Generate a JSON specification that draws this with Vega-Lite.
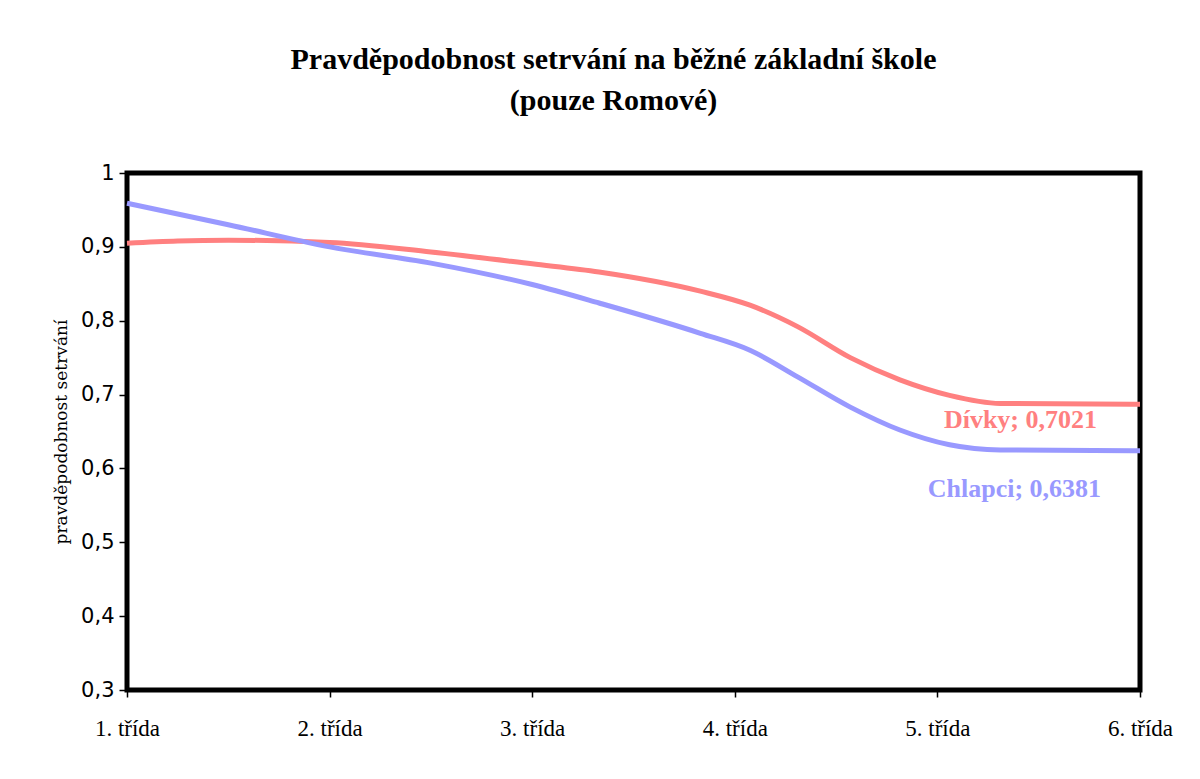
{
  "$schema": "https://vega.github.io/schema/vega-lite/v6.json",
  "width": 1013,
  "height": 517,
  "autosize": {"type": "none"},
  "padding": {"left": 127, "top": 173, "right": 60, "bottom": 89},
  "background": "white",
  "title": {
    "text": ["Pravděpodobnost setrvání na běžné základní škole", "(pouze Romové)"],
    "font": "Liberation Serif",
    "fontSize": 30,
    "fontWeight": "bold",
    "color": "black",
    "lineHeight": 41,
    "anchor": "middle",
    "dx": -20,
    "offset": 46
  },
  "config": {
    "view": {"stroke": "black", "strokeWidth": 5},
    "axis": {"grid": false, "domain": false, "tickColor": "black", "tickWidth": 1.5, "labelColor": "black", "titleColor": "black"}
  },
  "datasets": {
    "lines": [
      {"trida": 1.0, "p": 0.905, "skupina": "Dívky"},
      {"trida": 1.25, "p": 0.908, "skupina": "Dívky"},
      {"trida": 1.5, "p": 0.909, "skupina": "Dívky"},
      {"trida": 2.0, "p": 0.906, "skupina": "Dívky"},
      {"trida": 2.5, "p": 0.893, "skupina": "Dívky"},
      {"trida": 3.0, "p": 0.877, "skupina": "Dívky"},
      {"trida": 3.33, "p": 0.866, "skupina": "Dívky"},
      {"trida": 3.83, "p": 0.840, "skupina": "Dívky"},
      {"trida": 4.075, "p": 0.821, "skupina": "Dívky"},
      {"trida": 4.31, "p": 0.792, "skupina": "Dívky"},
      {"trida": 4.57, "p": 0.750, "skupina": "Dívky"},
      {"trida": 4.815, "p": 0.720, "skupina": "Dívky"},
      {"trida": 5.06, "p": 0.699, "skupina": "Dívky"},
      {"trida": 5.31, "p": 0.688, "skupina": "Dívky"},
      {"trida": 6.0, "p": 0.687, "skupina": "Dívky"},
      {"trida": 1.0, "p": 0.959, "skupina": "Chlapci"},
      {"trida": 1.5, "p": 0.930, "skupina": "Chlapci"},
      {"trida": 2.0, "p": 0.900, "skupina": "Chlapci"},
      {"trida": 2.5, "p": 0.878, "skupina": "Chlapci"},
      {"trida": 3.0, "p": 0.849, "skupina": "Chlapci"},
      {"trida": 3.33, "p": 0.824, "skupina": "Chlapci"},
      {"trida": 3.83, "p": 0.783, "skupina": "Chlapci"},
      {"trida": 4.075, "p": 0.760, "skupina": "Chlapci"},
      {"trida": 4.31, "p": 0.724, "skupina": "Chlapci"},
      {"trida": 4.57, "p": 0.683, "skupina": "Chlapci"},
      {"trida": 4.815, "p": 0.652, "skupina": "Chlapci"},
      {"trida": 5.06, "p": 0.632, "skupina": "Chlapci"},
      {"trida": 5.31, "p": 0.625, "skupina": "Chlapci"},
      {"trida": 6.0, "p": 0.624, "skupina": "Chlapci"}
    ],
    "labels": [
      {"trida": 5.41, "p": 0.6656, "skupina": "Dívky", "text": "Dívky; 0,7021"},
      {"trida": 5.38, "p": 0.572, "skupina": "Chlapci", "text": "Chlapci; 0,6381"}
    ]
  },
  "layer": [
    {
      "data": {"name": "lines"},
      "mark": {"type": "line", "strokeWidth": 5, "interpolate": "monotone"},
      "encoding": {
        "x": {
          "field": "trida", "type": "quantitative",
          "scale": {"domain": [1, 6], "nice": false, "zero": false},
          "axis": {
            "title": null, "values": [1, 2, 3, 4, 5, 6],
            "labelExpr": "datum.value + '. třída'",
            "labelFont": "Liberation Serif", "labelFontSize": 23,
            "tickSize": 7, "labelPadding": 20, "labelFlush": false
          }
        },
        "y": {
          "field": "p", "type": "quantitative",
          "scale": {"domain": [0.3, 1], "nice": false, "zero": false},
          "axis": {
            "title": "pravděpodobnost setrvání",
            "titleFont": "DejaVu Serif", "titleFontSize": 17, "titleFontWeight": "normal",
            "titlePadding": 10,
            "values": [0.3, 0.4, 0.5, 0.6, 0.7, 0.8, 0.9, 1],
            "labelExpr": "replace(format(datum.value, '.1~f'), '.', ',')",
            "labelFont": "DejaVu Sans", "labelFontSize": 21,
            "tickSize": 8, "labelPadding": 5
          }
        },
        "color": {
          "field": "skupina", "type": "nominal",
          "scale": {"domain": ["Dívky", "Chlapci"], "range": ["#FF8080", "#9999FF"]},
          "legend": null
        }
      }
    },
    {
      "data": {"name": "labels"},
      "mark": {"type": "text", "font": "Liberation Serif", "fontSize": 26, "fontWeight": "bold", "align": "center", "baseline": "middle"},
      "encoding": {
        "x": {"field": "trida", "type": "quantitative"},
        "y": {"field": "p", "type": "quantitative"},
        "text": {"field": "text"},
        "color": {"field": "skupina", "type": "nominal", "legend": null}
      }
    }
  ]
}
